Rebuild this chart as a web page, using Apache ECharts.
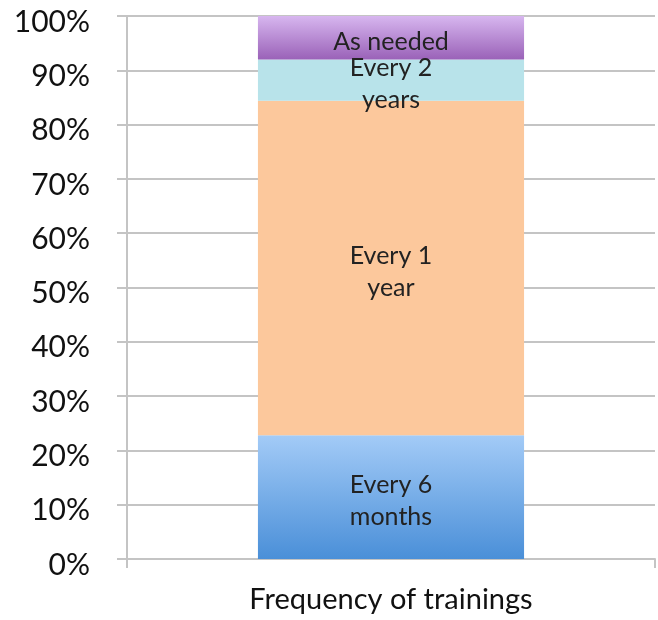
<!DOCTYPE html>
<html>
<head>
<meta charset="utf-8">
<script src="https://cdn.jsdelivr.net/npm/echarts@6/dist/echarts.min.js"></script>
<style>
  html, body { margin: 0; padding: 0; background: #fff; }
  #chart { width: 658px; height: 620px; }
</style>
</head>
<body>
<div id="chart"></div>
<script>
// 数据
const categories = ['Frequency of trainings'];
const seriesNames = ['Every 6\nmonths', 'Every 1\nyear', 'Every 2\nyears', 'As needed'];
const seriesValues = [22.8, 61.6, 7.6, 8.0];
const yTicks = [0, 10, 20, 30, 40, 50, 60, 70, 80, 90, 100];

const colors = [
  new echarts.graphic.LinearGradient(0, 0, 0, 1, [
    { offset: 0, color: '#a3cbf7' },
    { offset: 1, color: '#4a8fd8' }
  ]),
  '#fcc89c',
  '#b8e3ea',
  new echarts.graphic.LinearGradient(0, 0, 0, 1, [
    { offset: 0, color: '#d7b6ef' },
    { offset: 1, color: '#9a62b8' }
  ])
];

const chart = echarts.init(document.getElementById('chart'));

const option = {
  animation: false,
  grid: { left: 127, right: 3, top: 16, bottom: 61 },
  xAxis: {
    type: 'category',
    data: categories,
    axisLine: { show: true, lineStyle: { color: '#c4c4c4', width: 2 } },
    axisTick: { show: true, length: 9, lineStyle: { color: '#c4c4c4', width: 2 } },
    axisLabel: {
      margin: 26,
      fontSize: 29,
      color: '#111',
      fontFamily: 'Lato'
    }
  },
  yAxis: {
    type: 'value',
    min: yTicks[0],
    max: yTicks[yTicks.length - 1],
    interval: 10,
    axisLine: { show: true, lineStyle: { color: '#c4c4c4', width: 2 } },
    axisTick: { show: true, length: 10, lineStyle: { color: '#c4c4c4', width: 2 } },
    splitLine: { show: true, lineStyle: { color: '#c4c4c4', width: 2 } },
    axisLabel: {
      margin: 37,
      formatter: '{a|{value}%}',
      rich: {
        a: {
          fontSize: 30,
          color: '#111',
          fontFamily: 'Lato',
          padding: [12, 0, 0, 0]
        }
      }
    }
  },
  series: seriesNames.map((name, i) => ({
    name: name,
    type: 'bar',
    stack: 'total',
    barWidth: '50.4%',
    data: [seriesValues[i]],
    itemStyle: { color: colors[i] },
    label: {
      show: true,
      position: 'inside',
      offset: [0, 4],
      formatter: name,
      color: '#222',
      fontSize: 25,
      lineHeight: 32,
      fontFamily: 'Lato'
    }
  }))
};

chart.setOption(option);
</script>
</body>
</html>
